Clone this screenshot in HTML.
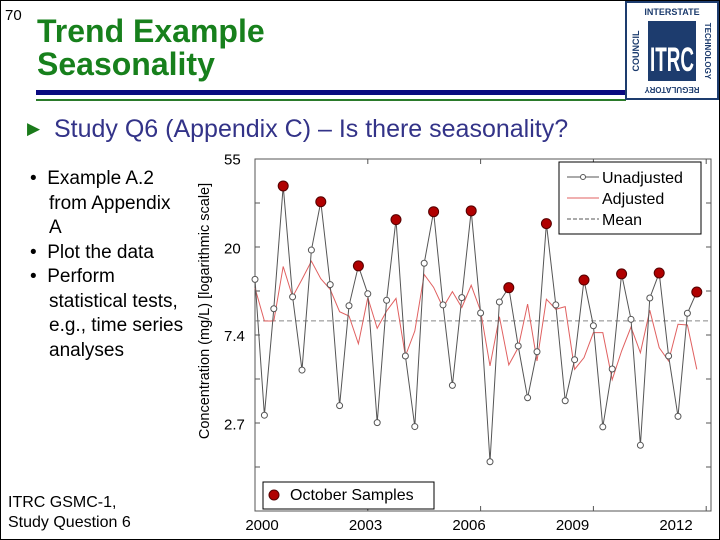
<!DOCTYPE html>
<html><head><meta charset="utf-8"><style>
body{margin:0;background:#fff}
#slide{position:relative;width:718px;height:538px;border:1px solid #000;overflow:hidden;font-family:"Liberation Sans",sans-serif;background:#fff}
.abs{position:absolute;white-space:nowrap}
</style></head><body>
<div id="slide">
<div class="abs" style="left:4px;top:6px;font-size:15px">70</div>
<div class="abs" style="left:36px;top:14px;font-size:32px;font-weight:bold;color:#17801c;line-height:33px">Trend Example<br>Seasonality</div>
<div class="abs" style="left:35px;top:89px;width:590px;height:5px;background:#0a0a80"></div>
<div class="abs" style="left:35px;top:98px;width:590px;height:2px;background:#2a7a2a"></div>
<svg class="abs" style="left:624px;top:0" width="94" height="100">
<rect x="1" y="1" width="92" height="97" fill="#fff" stroke="#1d3c6e" stroke-width="2"/>
<rect x="23" y="20" width="48" height="60" fill="#1d3c6e"/>
<text x="47" y="70" font-family="Liberation Sans" font-weight="bold" font-size="34" fill="#fff" text-anchor="middle" textLength="44" lengthAdjust="spacingAndGlyphs">ITRC</text>
<text x="47" y="14" font-family="Liberation Sans" font-weight="bold" font-size="9" fill="#1d3c6e" text-anchor="middle">INTERSTATE</text>
<text x="47" y="92" font-family="Liberation Sans" font-weight="bold" font-size="8" fill="#1d3c6e" text-anchor="middle" transform="rotate(180 47 89)">REGULATORY</text>
<text x="14" y="50" font-family="Liberation Sans" font-weight="bold" font-size="9" fill="#1d3c6e" text-anchor="middle" transform="rotate(-90 14 50)">COUNCIL</text>
<text x="80" y="50" font-family="Liberation Sans" font-weight="bold" font-size="8" fill="#1d3c6e" text-anchor="middle" transform="rotate(90 80 50)">TECHNOLOGY</text>
</svg>
<div class="abs" style="left:26px;top:114px;font-size:25px;color:#333388"><span style="color:#1a7a1a;font-size:17px;vertical-align:3px">▶</span>&nbsp; Study Q6 (Appendix C) – Is there seasonality?</div>
<div class="abs" style="left:29px;top:166px;font-size:19px;line-height:24.5px;color:#000">
<div style="margin-left:19px;text-indent:-19px">•&nbsp; Example A.2<br>from Appendix<br>A</div>
<div style="margin-left:19px;text-indent:-19px">•&nbsp; Plot the data</div>
<div style="margin-left:19px;text-indent:-19px">•&nbsp; Perform<br>statistical tests,<br>e.g., time series<br>analyses</div>
</div>
<div class="abs" style="left:7px;top:492px;font-size:16px;line-height:20px">ITRC GSMC-1,<br>Study Question 6</div>
<svg class="abs" style="left:0;top:0" width="718" height="538" id="chart"></svg>
</div>
<script>
const years=[2000,2003,2006,2009,2012];
const yTicks=[55,20,7.4,2.7];
const unadjusted=[13.9,2.97,9.96,40.2,11.4,4.96,19.4,33.6,13.1,3.31,10.3,16.2,11.8,2.73,10.96,27.4,5.82,2.61,16.7,30.0,10.4,4.17,11.3,30.3,9.49,1.75,10.75,12.65,6.52,3.62,6.11,26.2,10.4,3.50,5.58,13.8,8.21,2.60,5.02,14.8,8.83,2.11,11.25,14.95,5.82,2.93,9.46,12.05];
const adjusted=[12.6,8.66,8.66,16.1,11.4,13.9,17.1,14.0,12.4,9.63,9.17,6.69,11.3,7.97,9.71,11.2,5.82,7.73,14.7,12.7,10.1,12.1,10.1,13.0,9.71,5.20,9.10,5.26,6.40,10.5,5.50,11.1,9.9,10.2,5.0,5.71,7.59,7.59,4.45,6.16,8.09,6.04,9.79,6.40,5.50,8.35,8.28,5.0];
const meanValue=8.67;
const startYear=2000, stepYear=0.25;
const svg=document.getElementById('chart');
const NS='http://www.w3.org/2000/svg';
const L=254,R=710,T=158,B=510;
const x=t=>L+(t-2000)*37.6;
const y=v=>B-88*Math.log(v);
const lx=t=>261+(t-2000)*34.5;
function mk(tag,attrs){const e=document.createElementNS(NS,tag);for(const k in attrs)e.setAttribute(k,attrs[k]);svg.appendChild(e);return e;}
const frame=mk('rect',{x:L,y:T,width:R-L,height:B-T,fill:'none',stroke:'#555','stroke-width':1});


for(let i=0;i<=8;i++){const yy=B-44*i;
 const t1=mk('line',{x1:L,x2:L+5,y1:yy,y2:yy,stroke:'#555'});
 const t2=mk('line',{x1:R-5,x2:R,y1:yy,y2:yy,stroke:'#555'});}
years.forEach(yr=>{const xx=x(yr);
 const t=mk('line',{x1:xx,x2:xx,y1:B-5,y2:B,stroke:'#555'});
 const t2=mk('line',{x1:xx,x2:xx,y1:T,y2:T+5,stroke:'#555'});
 const lb=mk('text',{x:lx(yr),y:529,'font-size':15,'text-anchor':'middle','font-family':'Liberation Sans'});lb.textContent=yr;
 });
yTicks.forEach(v=>{const lb=mk('text',{x:223,y:y(v)+6,'font-size':15,'font-family':'Liberation Sans'});lb.textContent=v;
 });
const yt=mk('text',{x:0,y:0,'font-size':14.5,'text-anchor':'middle','font-family':'Liberation Sans',transform:'translate(208,310) rotate(-90)'});
yt.textContent='Concentration (mg/L) [logarithmic scale]';

const mean=mk('line',{x1:L,x2:R,y1:y(meanValue),y2:y(meanValue),stroke:'#888','stroke-dasharray':'5,3'});

const tx=i=>x(startYear+i*stepYear);
const adj=mk('polyline',{points:adjusted.map((v,i)=>tx(i)+','+y(v)).join(' '),fill:'none',stroke:'#e06060','stroke-width':1});

const un=mk('polyline',{points:unadjusted.map((v,i)=>tx(i)+','+y(v)).join(' '),fill:'none',stroke:'#555','stroke-width':1});

unadjusted.forEach((v,i)=>{
 if(i%4===3){const c=mk('circle',{cx:tx(i),cy:y(v),r:5,fill:'#b00000',stroke:'#500','stroke-width':1});
  }
 else{const c=mk('circle',{cx:tx(i),cy:y(v),r:3,fill:'#fff',stroke:'#555','stroke-width':1});
  }
});
const lg=mk('rect',{x:558,y:161,width:142,height:72,fill:'#fff',stroke:'#000'});

[['Unadjusted','#555',''],['Adjusted','#e06060',''],['Mean','#555','4,2']].forEach((e,i)=>{
 const yy=176+i*21;
 const l=mk('line',{x1:566,x2:598,y1:yy,y2:yy,stroke:e[1],'stroke-dasharray':e[2]});
 
 if(i===0){const c=mk('circle',{cx:582,cy:yy,r:2.5,fill:'#fff',stroke:'#555'});}
 const t=mk('text',{x:601,y:yy+6,'font-size':16,'font-family':'Liberation Sans'});t.textContent=e[0];
 });
const lg2=mk('rect',{x:262,y:481,width:171,height:27,fill:'#fff',stroke:'#000'});

const oc=mk('circle',{cx:273,cy:494,r:5,fill:'#b00000',stroke:'#500'});

const ot=mk('text',{x:289,y:499,'font-size':16,'font-family':'Liberation Sans'});ot.textContent='October Samples';

</script>
</body></html>
